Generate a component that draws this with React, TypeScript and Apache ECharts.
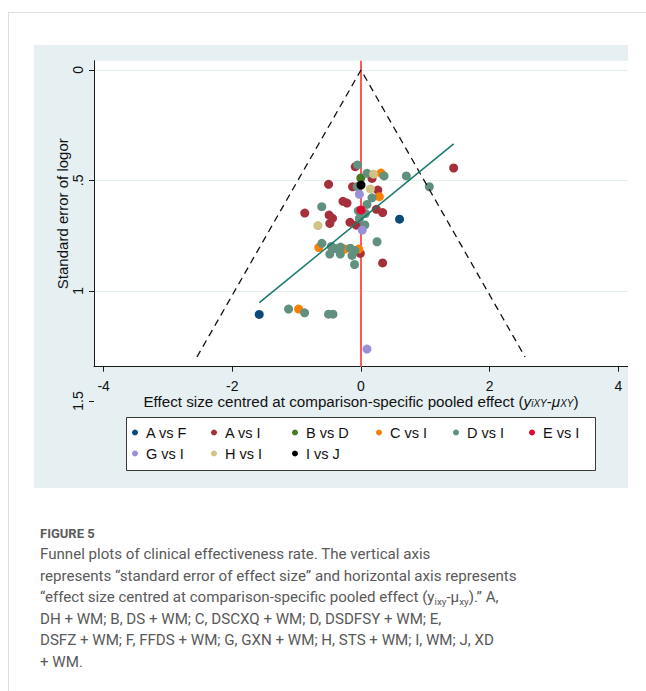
import React, { useEffect, useRef } from 'react';
import * as echarts from 'echarts';

// ---- data ----
const seriesNames = ['A vs F', 'A vs I', 'B vs D', 'C vs I', 'D vs I', 'E vs I', 'G vs I', 'H vs I', 'I vs J'];
const seriesColors = ['#0c4a7e', '#a5303b', '#467b25', '#f98000', '#61907f', '#e3062f', '#9890d9', '#d0c383', '#000000'];

const aVsF = [[-1.582, 1.107], [0.599, 0.676]];
const aVsI = [
  [-0.089, 0.438], [0.171, 0.491], [1.44, 0.444], [-0.131, 0.529], [0.261, 0.544],
  [-0.504, 0.518], [-0.28, 0.595], [-0.218, 0.603], [-0.874, 0.648], [-0.496, 0.657],
  [-0.443, 0.672], [-0.485, 0.695], [0.238, 0.631], [0.336, 0.646], [-0.171, 0.69],
  [-0.073, 0.703], [-0.011, 0.831], [0.336, 0.874],
];
const bVsD = [[-0.003, 0.489]];
const cVsI = [[0.311, 0.467], [0.285, 0.574], [-0.656, 0.804], [-0.252, 0.811], [-0.037, 0.811], [-0.97, 1.083]];
const dVsI = [
  [-0.053, 0.43], [0.093, 0.468], [0.358, 0.48], [0.705, 0.48], [1.062, 0.529],
  [-0.058, 0.528], [0.171, 0.579], [0.093, 0.609], [-0.61, 0.619], [-0.042, 0.638],
  [0.067, 0.65], [-0.026, 0.673], [0.059, 0.702], [0.249, 0.778], [-0.608, 0.785],
  [-0.462, 0.799], [-0.392, 0.809], [-0.317, 0.802], [-0.166, 0.807], [-0.096, 0.818],
  [-0.485, 0.834], [-0.322, 0.834], [-0.14, 0.84], [-0.1, 0.881], [-1.126, 1.083],
  [-0.877, 1.1], [-0.504, 1.106], [-0.435, 1.106],
];
const eVsI = [[0.0, 0.634]];
const gVsI = [[-0.026, 0.563], [0.02, 0.725], [0.093, 1.264]];
const hVsI = [[0.196, 0.472], [0.145, 0.539], [-0.669, 0.705]];
const iVsJ = [[0.0, 0.521]];
const scatterData = [aVsF, aVsI, bVsD, cVsI, dVsI, eVsI, gVsI, hVsI, iVsJ];

const funnelX = [-2.55, 0, 2.55];
const funnelY = [1.3, 0, 1.3];
const fitX = [-1.58, 1.44];
const fitY = [1.054, 0.335];

const xTicks = [-4, -2, 0, 2, 4];
const yTicks = [0, 0.5, 1];
const yExtraTicks = [1.5];

// ---- layout ----
const FONT = "'Liberation Sans', Arial, Helvetica, sans-serif";
const legendColX = [104, 183, 264, 348, 425, 501];
const legendRowY = [387.5, 408.5];

const stataNum = (v: number) => (v === 0 ? '0' : String(v).replace(/^0\./, '.'));

function buildOption(): any {
  const axisColor = '#1a1a1a';
  const textColor = '#111';
  const scatterSeries = seriesNames.map((name, i) => ({
    type: 'scatter',
    name,
    xAxisIndex: 0,
    yAxisIndex: 0,
    data: scatterData[i],
    symbol: 'circle',
    symbolSize: 9,
    itemStyle: { color: seriesColors[i], opacity: 1 },
    z: 2,
    silent: true,
  }));
  return {
    animation: false,
    backgroundColor: '#e6eff1',
    textStyle: { fontFamily: FONT },
    grid: [
      { left: 60, right: 0, top: 15.7, bottom: 121.3, show: true, backgroundColor: '#ffffff', borderWidth: 0 },
      { left: 60, right: 0, top: 25, bottom: 87, show: false },
    ],
    xAxis: [
      {
        type: 'value',
        gridIndex: 0,
        min: -4.15,
        max: 4.15,
        axisLine: { show: true, onZero: false, lineStyle: { color: axisColor, width: 1 } },
        axisTick: { show: true, inside: false, length: 5, customValues: xTicks, lineStyle: { color: axisColor } },
        axisLabel: { customValues: xTicks, margin: 12, fontSize: 14, color: textColor, fontFamily: FONT, formatter: (v: number) => String(v) },
        splitLine: { show: false },
        name: 'Effect size centred at comparison-specific pooled effect ({i|y}{s|iXY}-{i|μ}{s|XY})',
        nameLocation: 'middle',
        nameGap: 27,
        nameMoveOverlap: false,
        nameTextStyle: {
          fontSize: 15.2,
          color: textColor,
          fontFamily: FONT,
          rich: {
            i: { fontStyle: 'italic', fontSize: 15.2, color: textColor, fontFamily: FONT },
            s: { fontStyle: 'italic', fontSize: 10, color: textColor, fontFamily: FONT, padding: [5, 0, 0, 0] },
          },
        },
      },
      { type: 'value', gridIndex: 1, show: false, min: 0, max: 1 },
    ],
    yAxis: [
      {
        type: 'value',
        gridIndex: 0,
        inverse: true,
        min: -0.042,
        max: 1.344,
        axisLine: { show: true, onZero: false, lineStyle: { color: axisColor, width: 1 } },
        axisTick: { show: true, inside: false, length: 5, customValues: yTicks, lineStyle: { color: axisColor } },
        axisLabel: { customValues: yTicks, rotate: 90, margin: 9, fontSize: 14, color: textColor, fontFamily: FONT, formatter: stataNum },
        splitLine: { show: true, lineStyle: { color: '#e6eff1', width: 1 } },
        name: 'Standard error of logor',
        nameLocation: 'middle',
        nameGap: 24.5,
        nameMoveOverlap: false,
        nameTextStyle: { fontSize: 15, color: textColor, fontFamily: FONT },
      },
      {
        type: 'value',
        gridIndex: 1,
        inverse: true,
        min: 0,
        max: 1.5,
        axisLine: { show: false, onZero: false },
        axisTick: { show: true, inside: false, length: 5, customValues: yExtraTicks, lineStyle: { color: axisColor } },
        axisLabel: { customValues: yExtraTicks, rotate: 90, margin: 9, fontSize: 14, color: textColor, fontFamily: FONT, formatter: stataNum },
        splitLine: { show: false },
      },
    ],
    legend: seriesNames.map((name, i) => ({
      data: [name],
      left: legendColX[i % 6] - 6,
      top: legendRowY[Math.floor(i / 6)] - 7.5,
      orient: 'horizontal',
      padding: 0,
      itemWidth: 12,
      itemHeight: 6,
      icon: 'circle',
      selectedMode: false,
      textStyle: { fontSize: 14.5, color: textColor, fontFamily: FONT },
    })),
    graphic: [
      {
        type: 'rect',
        z: 0,
        shape: { x: 92.5, y: 372.5, width: 469, height: 53 },
        style: { fill: '#ffffff', stroke: '#3a3a3a', lineWidth: 1 },
        silent: true,
      },
    ],
    series: [
      ...scatterSeries,
      {
        type: 'line',
        name: 'funnel',
        xAxisIndex: 0,
        yAxisIndex: 0,
        data: funnelX.map((x, k) => [x, funnelY[k]]),
        symbol: 'none',
        lineStyle: { color: '#111', width: 1.3, type: [7, 5] },
        z: 3,
        silent: true,
        markLine: {
          z: 1,
          silent: true,
          symbol: ['none', 'none'],
          label: { show: false },
          lineStyle: { color: '#ff5a5a', width: 2, type: 'solid' },
          data: [{ xAxis: 0 }],
        },
      },
      {
        type: 'line',
        name: 'fit',
        xAxisIndex: 0,
        yAxisIndex: 0,
        data: fitX.map((x, k) => [x, fitY[k]]),
        symbol: 'none',
        lineStyle: { color: '#16796b', width: 1.5 },
        z: 3,
        silent: true,
      },
    ],
  };
}

const subStyle: React.CSSProperties = { fontSize: '0.65em', position: 'relative', top: '0.3em', lineHeight: 0 };

export default function App() {
  const ref = useRef<HTMLDivElement>(null);
  useEffect(() => {
    if (!ref.current) return;
    const chart = echarts.init(ref.current, null, { renderer: 'svg' });
    chart.setOption(buildOption());
    return () => chart.dispose();
  }, []);
  const capFont = "Roboto, 'Liberation Sans', Arial, sans-serif";
  return (
    <div style={{ position: 'absolute', left: 0, top: 0, width: 646, height: 691, background: '#fff', overflow: 'hidden' }}>
      <div style={{ position: 'absolute', left: 8, top: 12, right: 0, bottom: 0, borderLeft: '1px solid #dedede', borderTop: '1px solid #dedede' }} />
      <div ref={ref} style={{ position: 'absolute', left: 34, top: 45, width: 594, height: 443 }} />
      <div style={{ position: 'absolute', left: 40, top: 526, fontFamily: capFont, fontWeight: 700, fontSize: 13, lineHeight: '16px', color: '#5c5c5c' }}>
        FIGURE 5
      </div>
      <div style={{ position: 'absolute', left: 40, top: 544, fontFamily: capFont, fontSize: 15.1, lineHeight: '21.6px', color: '#595959', whiteSpace: 'nowrap' }}>
        Funnel plots of clinical effectiveness rate. The vertical axis
        <br />
        represents “standard error of effect size” and horizontal axis represents
        <br />
        “effect size centred at comparison-specific pooled effect (y<span style={subStyle}>ixy</span>-μ<span style={subStyle}>xy</span>).” A,
        <br />
        DH + WM; B, DS + WM; C, DSCXQ + WM; D, DSDFSY + WM; E,
        <br />
        DSFZ + WM; F, FFDS + WM; G, GXN + WM; H, STS + WM; I, WM; J, XD
        <br />+ WM.
      </div>
    </div>
  );
}
